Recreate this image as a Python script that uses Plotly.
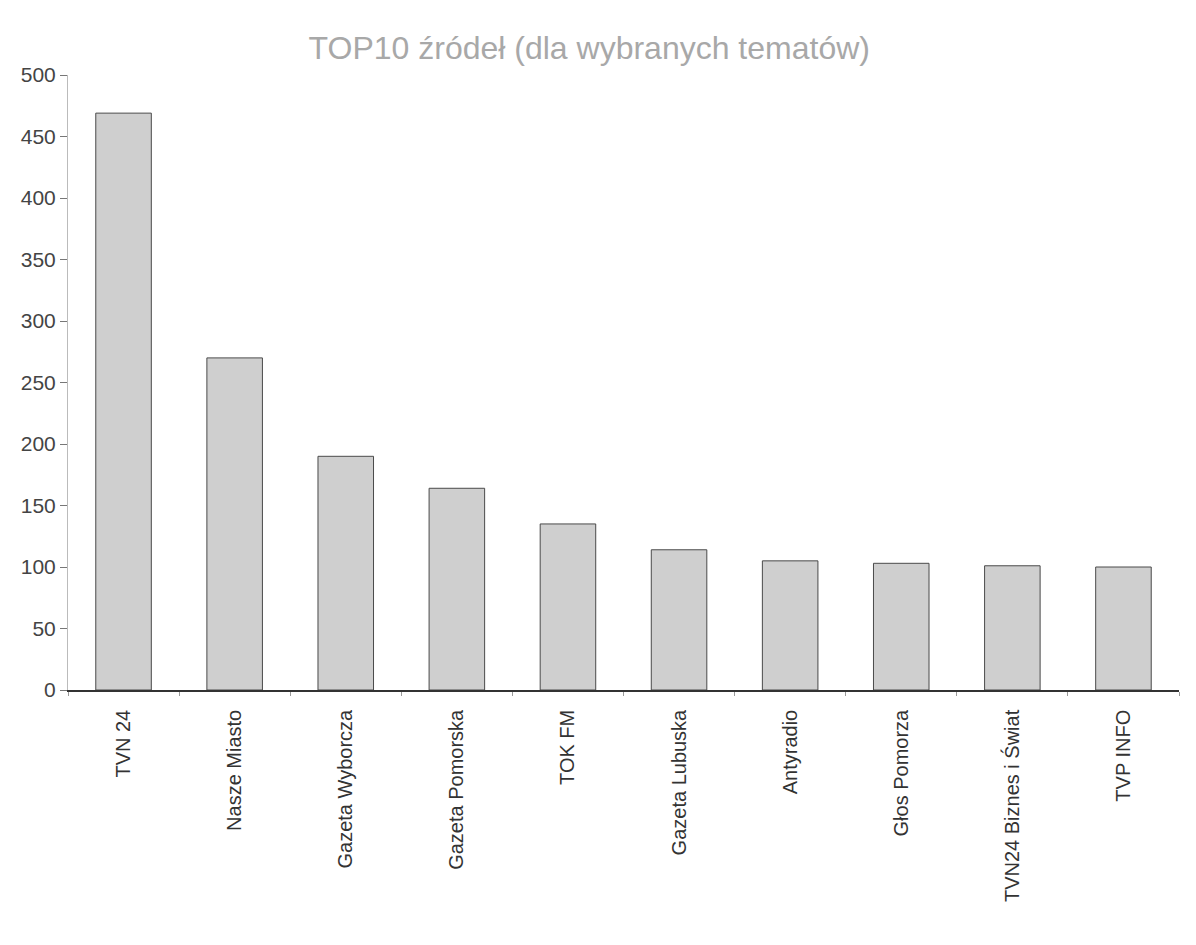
import plotly.graph_objects as go

categories = ["TVN 24", "Nasze Miasto", "Gazeta Wyborcza", "Gazeta Pomorska", "TOK FM",
              "Gazeta Lubuska", "Antyradio", "Głos Pomorza", "TVN24 Biznes i Świat", "TVP INFO"]
values = [469, 270, 190, 164, 135, 114, 105, 103, 101, 100]
y_ticks = [0, 50, 100, 150, 200, 250, 300, 350, 400, 450, 500]

FONT = "Liberation Sans, Arial, sans-serif"

fig = go.Figure(go.Bar(
    x=categories, y=values,
    width=0.5,
    marker=dict(color="#cfcfcf", line=dict(color="#4a4a4a", width=1)),
))

fig.update_layout(
    width=1196, height=945,
    margin=dict(l=60, r=25, t=67, b=263),
    paper_bgcolor="white", plot_bgcolor="white",
    showlegend=False,
    title=dict(text="TOP10 źródeł (dla wybranych tematów)", x=0.486, xanchor="center",
               y=0.958, yanchor="middle",
               font=dict(family=FONT, size=32, color="#a8a8a8")),
    font=dict(family=FONT, color="#333333"),
)

fig.update_xaxes(
    range=[-0.5, 9.5],
    tickangle=-90, tickfont=dict(size=20, color="#333333"),
    ticklabelstandoff=10,
    showline=True, linecolor="#333333", linewidth=1.5,
    ticks="outside", tickson="boundaries", ticklen=4, tickcolor="#999999",
    showgrid=False,
)
fig.update_yaxes(
    range=[0, 500], tickvals=y_ticks,
    tickfont=dict(size=21, color="#444444"),
    showline=True, linecolor="#bbbbbb", linewidth=1,
    ticks="outside", ticklen=7, tickcolor="#777777",
    showgrid=False, zeroline=False,
)

fig.write_html("out.html")
